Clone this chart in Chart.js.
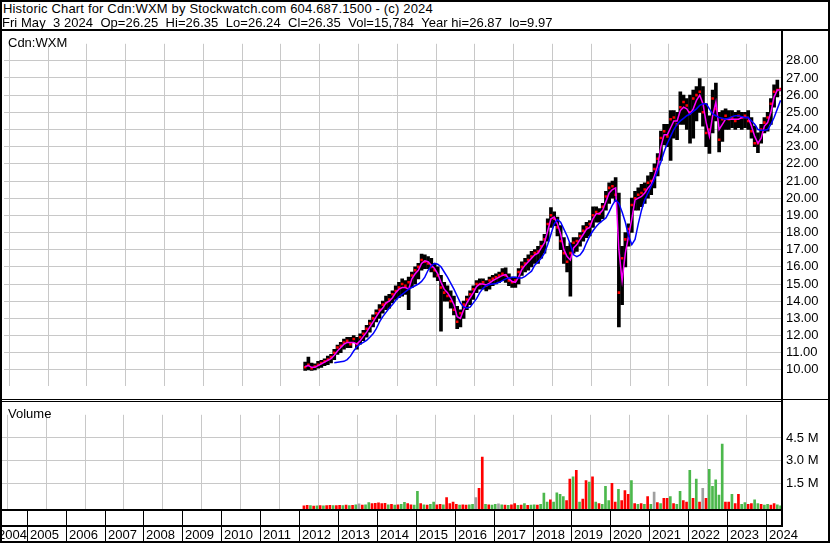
<!DOCTYPE html>
<html>
<head>
<meta charset="utf-8">
<script src="https://cdn.jsdelivr.net/npm/chart.js@4.4.1/dist/chart.umd.min.js"></script>
<style>
body { margin: 0; background: #fff; }
#wrap { position: relative; width: 830px; height: 543px; overflow: hidden; background: #fff;
        font-family: 'Liberation Sans', Arial, sans-serif; font-size: 13px; color: #000; }
.t { position: absolute; white-space: pre; line-height: 13px; z-index: 3; }
.ln { position: absolute; background: #000; z-index: 4; }
canvas { position: absolute; left: 0; z-index: 1; }
</style>
</head>
<body>
<div id="wrap">
  <div class="t" style="left:3px;top:2px;letter-spacing:0.17px">Historic Chart for Cdn:WXM by Stockwatch.com 604.687.1500 - (c) 2024</div>
  <div class="t" style="left:2px;top:15.6px;letter-spacing:0.05px">Fri May  3 2024  Op=26.25  Hi=26.35  Lo=26.24  Cl=26.35  Vol=15,784  Year hi=26.87  lo=9.97</div>
  <div class="t" style="left:8px;top:35.7px">Cdn:WXM</div>
  <div class="t" style="left:8px;top:406.7px">Volume</div>

  <canvas id="priceChart" width="830" height="368" style="top:31px"></canvas>
  <canvas id="volChart" width="830" height="141" style="top:402px"></canvas>

  <!-- frame -->
  <div class="ln" style="left:0;top:0;width:830px;height:2px"></div>
  <div class="ln" style="left:0;top:29px;width:830px;height:2px"></div>
  <div class="ln" style="left:0;top:0;width:2px;height:543px"></div>
  <div class="ln" style="left:828px;top:0;width:2px;height:543px"></div>
  <div class="ln" style="left:0;top:541px;width:830px;height:2px"></div>
  <div class="ln" style="left:781px;top:31px;width:2px;height:496px"></div>
  <div class="ln" style="left:0;top:399px;width:830px;height:1px"></div>
  <div class="ln" style="left:0;top:401px;width:783px;height:1px"></div>
  <div class="ln" style="left:0;top:509px;width:783px;height:2px"></div>
  <div class="ln" style="left:0;top:525px;width:783px;height:2px"></div>
</div>

<script>
// monthly data, Feb 2012 .. May 2024
const firstMonth = [2012, 2];

const lows = [
  9.97,10.0,9.97,10.0,10.1,10.15,10.25,10.3,10.4,10.6,10.9,
  11.0,11.2,11.3,11.3,11.6,11.2,11.5,11.7,11.9,12.2,12.5,12.8,
  13.0,13.3,13.5,13.6,13.9,14.1,14.2,14.3,14.4,13.5,14.8,15.0,
  15.3,15.8,15.9,15.9,15.7,15.4,15.2,12.25,14.0,14.0,13.6,13.2,
  12.4,12.5,13.0,13.5,13.8,14.1,14.5,14.7,14.7,14.6,14.7,14.9,
  15.0,15.1,15.2,15.1,14.9,14.8,14.8,15.0,15.5,15.7,15.8,16.0,
  16.2,16.2,16.5,16.8,17.5,18.3,18.4,17.8,17.0,16.2,15.7,14.3,
  16.8,16.9,17.2,17.5,17.7,17.8,18.3,18.6,18.6,18.8,19.3,19.7,
  20.0,19.8,12.5,13.8,16.0,17.2,18.0,19.3,19.3,19.5,19.7,20.0,
  20.2,20.6,21.3,22.2,23.1,23.0,22.2,23.5,23.4,24.3,24.3,24.0,
  23.2,23.5,24.5,25.0,24.2,23.0,22.6,23.8,24.5,22.7,23.3,24.0,
  24.0,24.1,24.0,24.1,24.0,24.1,24.0,23.5,23.0,22.65,23.2,23.8,
  23.9,24.3,25.3,25.9,26.24
];

const highs = [
  10.45,10.75,10.4,10.35,10.5,10.55,10.65,10.8,10.9,11.2,11.45,
  11.6,11.8,11.9,11.9,12.0,11.9,12.1,12.3,12.6,12.9,13.2,13.5,
  13.8,14.0,14.3,14.4,14.6,14.9,15.1,15.3,15.2,15.4,15.7,16.0,
  16.2,16.75,16.7,16.6,16.5,16.2,16.0,15.5,15.1,14.9,14.6,14.3,
  13.7,13.5,14.0,14.3,14.6,14.9,15.2,15.3,15.3,15.2,15.4,15.5,
  15.6,15.7,15.9,15.95,15.6,15.4,15.4,15.9,16.3,16.5,16.7,16.9,
  17.0,17.2,17.5,17.9,18.8,19.45,19.2,18.9,18.4,17.7,17.2,17.4,
  17.7,17.7,18.0,18.4,18.6,18.7,19.5,19.5,19.4,19.7,20.4,20.9,
  21.0,21.2,20.3,17.2,18.0,18.5,20.0,20.4,20.6,20.8,20.9,21.3,
  21.5,22.0,22.6,23.9,24.3,24.3,25.1,25.1,25.0,26.2,26.0,25.8,
  26.0,26.3,26.5,26.97,26.5,25.5,24.8,26.3,26.7,25.0,25.1,25.2,
  25.1,25.1,25.0,25.1,25.0,25.0,25.1,24.7,24.2,23.8,24.3,24.7,
  25.0,25.8,26.6,26.87,26.35
];

const closes = [
  10.15,10.3,10.1,10.2,10.3,10.4,10.5,10.6,10.75,11.0,11.3,
  11.4,11.6,11.7,11.5,11.8,11.5,11.9,12.1,12.4,12.7,13.0,13.3,
  13.5,13.8,13.9,14.1,14.4,14.6,14.8,15.0,14.9,15.1,15.5,15.8,
  16.0,16.4,16.3,16.2,16.0,15.8,15.5,14.8,14.5,14.3,14.0,13.5,
  12.8,13.3,13.8,14.1,14.4,14.7,15.0,15.0,15.1,14.9,15.2,15.3,
  15.4,15.5,15.6,15.5,15.2,15.1,15.2,15.7,16.0,16.2,16.4,16.6,
  16.8,16.9,17.2,17.6,18.5,19.0,18.8,18.3,17.5,16.8,16.3,16.8,
  17.4,17.5,17.8,18.1,18.3,18.5,19.0,19.2,19.1,19.5,20.1,20.6,
  20.7,20.2,14.5,16.5,17.6,18.2,19.6,20.0,20.2,20.3,20.5,20.9,
  21.0,21.7,22.3,23.5,23.9,23.6,24.6,24.7,24.3,25.3,25.6,25.4,
  25.0,25.8,26.0,26.2,25.0,23.8,24.0,25.8,25.2,23.4,24.6,24.8,
  24.6,24.7,24.5,24.8,24.7,24.8,24.5,23.9,23.2,23.2,24.0,24.4,
  24.7,25.5,26.2,26.3,26.35
];

// short moving average (magenta)
const maFast = [
  10.2,10.25,10.15,10.15,10.25,10.35,10.45,10.55,10.65,10.85,11.1,
  11.3,11.5,11.6,11.6,11.6,11.5,11.7,11.95,12.2,12.5,12.8,13.1,
  13.4,13.6,13.9,14.0,14.2,14.5,14.7,14.8,14.8,14.7,15.3,15.6,
  15.8,16.2,16.35,16.3,16.1,15.9,15.6,15.1,14.7,14.5,14.2,13.8,
  13.1,13.0,13.5,13.9,14.2,14.5,14.85,15.0,15.0,14.95,15.05,15.2,
  15.3,15.4,15.5,15.55,15.3,15.15,15.1,15.4,15.85,16.1,16.3,16.5,
  16.7,16.8,17.1,17.4,18.1,18.8,18.9,18.5,17.9,17.0,16.6,16.4,
  17.1,17.3,17.6,17.9,18.2,18.3,18.8,19.1,19.1,19.3,19.8,20.3,
  20.5,20.6,17.0,15.2,16.8,17.8,18.8,19.9,20.0,20.1,20.3,20.6,
  20.8,21.3,21.9,23.0,23.7,23.7,24.1,24.5,24.5,25.1,25.3,25.2,
  24.9,25.2,25.7,26.0,25.5,24.4,23.6,24.8,25.6,24.0,24.3,24.6,
  24.6,24.6,24.6,24.6,24.7,24.7,24.7,24.2,23.6,23.2,23.5,24.2,
  24.4,25.0,25.9,26.3,26.3
];

// long moving average (blue)
const maSlow = [
  null,null,null,null,null,null,null,null,null,10.42,10.45,
  10.48,10.5,10.6,10.8,11.1,11.35,11.5,11.6,11.72,11.9,12.1,12.4,
  12.8,13.1,13.35,13.6,13.8,14.05,14.25,14.4,14.55,14.7,14.8,14.9,
  15.0,15.15,15.4,15.8,16.05,16.2,16.15,16.0,15.7,15.4,15.05,14.7,
  14.3,13.9,13.65,13.6,13.65,13.9,14.15,14.5,14.75,14.9,14.97,15.0,
  15.03,15.1,15.2,15.3,15.35,15.4,15.4,15.35,15.35,15.45,15.6,15.75,
  16.1,16.3,16.5,16.8,17.3,17.9,18.5,18.75,18.6,18.2,17.8,17.3,
  16.7,16.6,16.7,16.95,17.4,17.8,18.1,18.35,18.55,18.7,18.85,19.2,
  19.6,19.9,19.7,19.2,18.6,17.8,17.3,17.6,18.5,19.3,19.9,20.3,
  20.7,21.1,21.6,22.1,22.7,23.2,23.6,24.0,24.3,24.5,24.65,24.8,
  24.9,25.05,25.2,25.4,25.5,25.5,25.2,24.9,24.8,24.7,24.65,24.6,
  24.65,24.75,24.8,24.8,24.75,24.7,24.7,24.5,24.3,24.0,23.95,23.95,
  24.0,24.3,24.7,25.2,25.7
];

// volume in millions, colour code r = down, g = up, y = unchanged
const volumes = [
  0.05,0.08,0.06,0.04,0.05,0.07,0.05,0.06,0.08,0.06,0.07,
  0.08,0.06,0.1,0.07,0.09,0.12,0.19,0.1,0.12,0.27,0.2,0.22,
  0.25,0.2,0.22,0.12,0.15,0.1,0.12,0.15,0.28,0.2,0.12,0.1,
  1.0,0.2,0.12,0.1,0.15,0.3,0.12,0.15,0.12,0.6,0.2,0.3,
  0.15,0.1,0.12,0.1,0.12,0.15,0.6,1.2,3.25,0.15,0.12,0.1,
  0.15,0.18,0.12,0.1,0.08,0.12,0.2,0.08,0.1,0.2,0.08,0.1,
  0.12,0.1,0.15,0.88,0.3,0.45,0.3,0.9,0.8,0.65,0.4,1.8,
  1.95,2.38,0.3,0.5,1.7,1.6,1.95,0.3,0.2,0.15,1.33,0.4,
  1.52,0.3,1.13,0.4,1.05,0.8,1.7,0.2,0.15,0.2,0.15,0.65,
  0.15,0.95,0.27,0.2,0.55,0.55,0.65,0.2,0.15,1.0,0.4,0.3,
  2.38,0.55,1.8,0.3,1.2,0.55,2.45,1.33,1.75,0.75,4.1,0.3,
  0.3,0.8,0.2,0.8,0.15,0.27,0.15,0.2,0.45,0.2,0.15,0.1,
  0.15,0.1,0.2,0.12,0.05
];

const volColors = [
  'r','r','g','r','g','r','g','r','r','g','r',
  'r','g','r','g','r','g','y','r','g','g','r','r',
  'r','r','r','g','r','g','r','g','g','r','r','g',
  'g','r','g','r','g','g','r','r','g','r','r','r',
  'r','g','r','r','g','g','y','r','r','g','r','g',
  'g','y','g','r','g','r','r','g','r','g','r','g',
  'g','r','g','g','g','r','g','g','g','g','r','r',
  'g','r','g','r','r','g','r','g','r','g','g','g',
  'r','r','g','r','r','r','g','r','g','r','g','r',
  'g','y','r','g','r','r','g','r','g','g','r','r',
  'g','r','g','r','y','r','g','g','g','g','g','r',
  'r','g','r','r','g','g','r','r','g','g','r','g',
  'g','r','r','g','g'
];

const gridYears = [2005,2006,2007,2008,2009,2010,2011,2012,2013,2014,2015,2016,2017,2018,2019,2020,2021,2022,2023,2024];
const labelYears = [2004].concat(gridYears);
const priceTicks = [10,11,12,13,14,15,16,17,18,19,20,21,22,23,24,25,26,27,28];
const volTicks = [1.5, 3.0, 4.5];

const xMin = 2004.365, xMax = 2024.386;
const priceMin = 9.05, priceMax = 28.99;
const volMin = -0.156, volMax = 6.017;

const colorMap = { r: '#ff0000', g: '#4cb84c', y: '#a0a0a0' };

// month index -> fractional year at mid-month
const monthX = lows.map((_, i) => {
    const m = firstMonth[1] - 1 + i;
    return firstMonth[0] + Math.floor(m / 12) + ((m % 12) + 0.5) / 12;
});

Chart.defaults.font.family = "'Liberation Sans', Arial, sans-serif";
Chart.defaults.font.size = 13;
Chart.defaults.color = '#000';

function xScale() {
    return {
        type: 'linear', min: xMin, max: xMax, offset: false,
        afterBuildTicks: s => { s.ticks = gridYears.map(v => ({ value: v })); },
        afterFit: s => { s.height = 0; },
        grid: { color: '#c8c8c8', drawTicks: false },
        border: { display: false },
        ticks: { display: false }
    };
}

new Chart(document.getElementById('priceChart'), {
    type: 'bar',
    data: {
        datasets: [
            {
                type: 'line', label: 'slow', order: 0,
                data: monthX.map((x, i) => ({ x: x, y: maSlow[i] })).filter(p => p.y !== null),
                borderColor: '#0000ff', borderWidth: 1.5, pointRadius: 0, tension: 0
            },
            {
                type: 'line', label: 'fast', order: 1,
                data: monthX.map((x, i) => ({ x: x, y: maFast[i] })),
                borderColor: '#ff00ff', borderWidth: 1.5, pointRadius: 0, tension: 0
            },
            {
                type: 'line', label: 'close', order: 2, showLine: false,
                data: monthX.map((x, i) => ({ x: x, y: closes[i] })),
                pointStyle: 'rect', pointRadius: 1.8, pointBackgroundColor: '#ff0000', pointBorderWidth: 0
            },
            {
                type: 'bar', label: 'range', order: 3,
                data: monthX.map((x, i) => ({ x: x, y: [lows[i], highs[i]] })),
                backgroundColor: '#000', barThickness: 3, grouped: false
            }
        ]
    },
    options: {
        responsive: false, animation: false, events: [],
        layout: { padding: { left: 2, right: 0, top: 0, bottom: 0 } },
        plugins: { legend: { display: false }, tooltip: { enabled: false } },
        scales: {
            x: xScale(),
            y: {
                position: 'right', min: priceMin, max: priceMax,
                afterBuildTicks: s => { s.ticks = priceTicks.map(v => ({ value: v })); },
                afterFit: s => { s.width = 49; },
                grid: { color: '#c8c8c8', drawTicks: false },
                border: { display: false },
                ticks: { padding: 5, callback: v => Number(v).toFixed(2) }
            }
        }
    }
});

// year labels strip under the volume panel
const yearStrip = {
    id: 'yearStrip',
    afterDraw(chart) {
        const ctx = chart.ctx, xs = chart.scales.x, top = chart.chartArea.bottom;
        ctx.save();
        ctx.fillStyle = '#000';
        ctx.font = "13px 'Liberation Sans', Arial, sans-serif";
        ctx.textBaseline = 'alphabetic';
        ctx.textAlign = 'left';
        labelYears.forEach(yr => {
            const px = Math.round(xs.getPixelForValue(yr));
            if (px >= 2) {
                ctx.fillRect(px, top + 2, 1, 14);
                ctx.fillRect(px, top + 18, 1, 14);
            }
            ctx.fillText(String(yr), Math.max(px + 3, -2), top + 30);
        });
        ctx.restore();
    }
};

new Chart(document.getElementById('volChart'), {
    type: 'bar',
    data: {
        datasets: [{
            label: 'Volume',
            data: monthX.map((x, i) => ({ x: x, y: volumes[i] })),
            backgroundColor: volColors.map(c => colorMap[c]),
            barThickness: 2, base: volMin, grouped: false
        }]
    },
    options: {
        responsive: false, animation: false, events: [],
        layout: { padding: { left: 2, right: 0, top: 0, bottom: 34 } },
        plugins: { legend: { display: false }, tooltip: { enabled: false } },
        scales: {
            x: xScale(),
            y: {
                position: 'right', min: volMin, max: volMax,
                afterBuildTicks: s => { s.ticks = volTicks.map(v => ({ value: v })); },
                afterFit: s => { s.width = 49; },
                grid: { color: '#c8c8c8', drawTicks: false },
                border: { display: false },
                ticks: { padding: 5, callback: v => Number(v).toFixed(1) + ' M' }
            }
        }
    },
    plugins: [yearStrip]
});
</script>
</body>
</html>
